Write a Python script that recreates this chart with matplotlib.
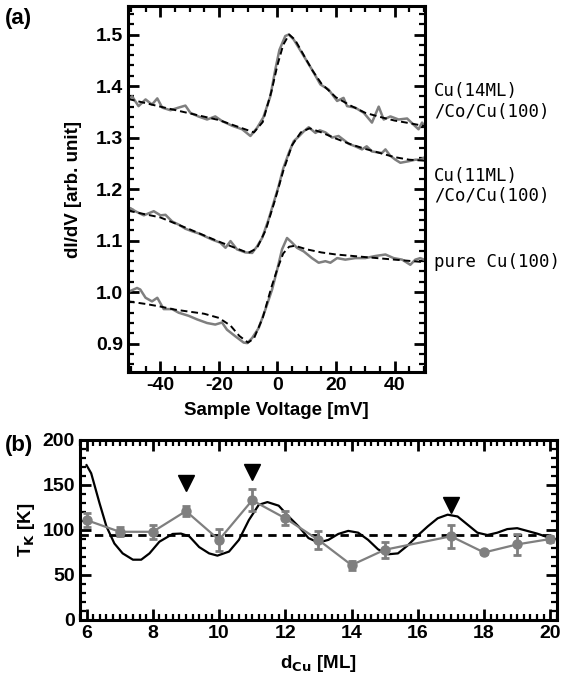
import numpy as np
import matplotlib.pyplot as plt
import matplotlib as mpl
from matplotlib.ticker import MultipleLocator

mpl.rcParams['font.family'] = 'Liberation Sans'
mpl.rcParams['font.weight'] = 'bold'
mpl.rcParams['axes.labelweight'] = 'bold'
mpl.rcParams['axes.unicode_minus'] = False

# ---- panel (a): dI/dV spectra, data (gray) and fits (dashed)
v14 = [-51, -49.6, -47.4, -45, -42.8, -41, -39.3, -36.5, -33.8, -31.4, -29.7, -27, -24, -21.2,
       -18.9, -15.5, -12, -9.2, -6.9, -4.8, -2.4, -0.7, 0.7, 2.7, 3.9, 5.6, 8.4, 11.8, 14.7,
       17.5, 20.4, 22.6, 23.8, 26.6, 29.5, 32.3, 34.6, 36.3, 38.6, 41.4, 44.3, 46.5, 48.2, 49.4, 50.5]
g14 = [1.372, 1.380, 1.361, 1.374, 1.364, 1.376, 1.358, 1.353, 1.358, 1.362, 1.348, 1.341, 1.335,
       1.341, 1.332, 1.323, 1.316, 1.303, 1.319, 1.339, 1.380, 1.432, 1.470, 1.497, 1.500, 1.490,
       1.464, 1.432, 1.403, 1.393, 1.371, 1.377, 1.361, 1.358, 1.348, 1.329, 1.360, 1.335, 1.341,
       1.335, 1.337, 1.325, 1.316, 1.329, 1.320]
fv14 = [-51, -40, -30, -20, -12, -8, -5, -2, 0, 2, 4, 6, 9, 12, 15, 20, 25, 30, 35, 40, 45, 50.5]
f14 = [1.375, 1.360, 1.347, 1.334, 1.318, 1.310, 1.330, 1.390, 1.440, 1.480, 1.500, 1.490, 1.460,
       1.430, 1.405, 1.378, 1.362, 1.348, 1.340, 1.333, 1.328, 1.322]

v11 = [-51, -50.2, -48.5, -45.6, -42.2, -39.9, -38.2, -35.9, -33.7, -31.4, -29.1, -26.9, -24.6,
       -22.3, -19.5, -17.7, -16.0, -13.8, -10.9, -8.6, -6.9, -5.2, -3.0, -1.3, 0.4, 2.0, 3.9, 5.6,
       7.3, 9.0, 10.7, 13.0, 14.5, 16.4, 18.7, 20.9, 23.2, 24.3, 26.6, 28.9, 30.5, 32.3, 35.7,
       36.9, 38.5, 40.3, 42, 44.8, 47.1, 48.8, 50.5]
g11 = [1.160, 1.163, 1.157, 1.149, 1.157, 1.149, 1.150, 1.137, 1.131, 1.123, 1.118, 1.114, 1.108,
       1.102, 1.096, 1.086, 1.099, 1.083, 1.077, 1.076, 1.089, 1.105, 1.141, 1.173, 1.205, 1.240,
       1.270, 1.293, 1.302, 1.312, 1.320, 1.309, 1.314, 1.310, 1.300, 1.303, 1.293, 1.288, 1.283,
       1.277, 1.283, 1.273, 1.270, 1.277, 1.265, 1.257, 1.251, 1.254, 1.257, 1.257, 1.262]
fv11 = [-51, -40, -30, -20, -14, -10, -7, -4, -1, 2, 5, 8, 11, 15, 20, 25, 30, 35, 40, 45, 50.5]
f11 = [1.158, 1.145, 1.122, 1.098, 1.085, 1.076, 1.085, 1.120, 1.175, 1.235, 1.285, 1.310, 1.318,
       1.310, 1.298, 1.287, 1.278, 1.270, 1.262, 1.257, 1.255]

vcu = [-51, -49.5, -47.9, -46.8, -45, -42.8, -41, -38.8, -35.9, -33.7, -30.3, -27.4, -24, -21.2,
       -18.9, -17.2, -14.3, -11.5, -10.3, -8.6, -6.4, -4.1, -1.8, 0, 1.6, 3.3, 5, 6.7, 9, 11.8,
       14.1, 16.4, 18.1, 20.4, 23.2, 26.6, 30, 33.4, 36.9, 39.7, 42.6, 45.4, 47.1, 48.8, 50.5]
gcu = [1.000, 1.004, 1.008, 1.005, 0.989, 0.982, 0.989, 0.967, 0.967, 0.960, 0.954, 0.947, 0.940,
       0.937, 0.941, 0.927, 0.914, 0.902, 0.901, 0.911, 0.930, 0.966, 1.005, 1.045, 1.083, 1.105,
       1.096, 1.086, 1.079, 1.066, 1.057, 1.060, 1.057, 1.066, 1.063, 1.066, 1.066, 1.070, 1.073,
       1.066, 1.063, 1.053, 1.063, 1.066, 1.062]
fvcu = [-51, -45, -40, -35, -30, -25, -20, -16, -13, -10, -8, -5, -2, 0, 2, 4, 6, 10, 15, 20, 30, 40, 50.5]
fcu = [0.982, 0.977, 0.972, 0.966, 0.962, 0.958, 0.950, 0.935, 0.915, 0.902, 0.910, 0.950, 1.010,
       1.045, 1.075, 1.088, 1.090, 1.083, 1.077, 1.073, 1.068, 1.063, 1.058]

labels_a = ["Cu(14ML)\n/Co/Cu(100)", "Cu(11ML)\n/Co/Cu(100)", "pure Cu(100)"]
label_y = [1.370, 1.206, 1.058]

# ---- panel (b): Kondo temperature vs Cu thickness
d_cu = [6, 7, 8, 9, 10, 11, 12, 13, 14, 15, 17, 18, 19, 20]
tk = [111, 98, 98, 121, 89, 133, 113, 89, 61, 78, 93, 75, 84, 90]
tk_err = [8, 5, 8, 6, 12, 12, 8, 10, 5, 9, 13, 2, 12, 3]
tk_mean = 94

d_calc = [6.0, 6.14, 6.39, 6.6, 6.84, 7.09, 7.4, 7.65, 7.9, 8.2, 8.6, 8.85, 9.1, 9.4, 9.7, 9.95,
          10.3, 10.6, 10.9, 11.2, 11.46, 11.8, 12.1, 12.4, 12.7, 13.0, 13.3, 13.6, 13.9, 14.2,
          14.5, 14.8, 15.1, 15.4, 15.7, 16.0, 16.3, 16.6, 16.9, 17.2, 17.5, 17.8, 18.1, 18.4,
          18.7, 19.0, 19.3, 19.6, 20.0]
t_calc = [172, 163, 130, 104, 85, 74, 67, 67, 74, 87, 95.6, 96, 93, 81, 74, 71.5, 76, 89, 111,
          128, 131, 127, 115, 104, 91, 86, 89, 95.6, 99, 97, 89, 78.5, 73, 74, 83, 94, 104, 113,
          117, 115, 106, 97, 94.4, 97, 101, 102, 99, 96, 91]

d_mark = [9, 11, 17]
t_mark = [152, 164, 128]

gray = '#7f7f7f'

fig = plt.figure(figsize=(5.75, 6.85), dpi=100)
ax1 = fig.add_axes([0.2226, 0.457, 0.517, 0.534])
ax2 = fig.add_axes([0.139, 0.0949, 0.8296, 0.2628])


def style(ax):
    for s in ax.spines.values():
        s.set_linewidth(2.2)
    ax.tick_params(which='both', direction='in', top=True, right=True, labelsize=14)
    ax.tick_params(which='major', length=8, width=2)
    ax.tick_params(which='minor', length=4.5, width=1.6)


# (a)
for v, g, fv, f in [(v14, g14, fv14, f14), (v11, g11, fv11, f11), (vcu, gcu, fvcu, fcu)]:
    ax1.plot(v, g, color=gray, lw=1.8)
    ax1.plot(fv, f, color='black', lw=1.4, ls=(0, (3.5, 2)))
ax1.set_xlim(-51, 50.5)
ax1.set_ylim(0.845, 1.555)
ax1.xaxis.set_major_locator(MultipleLocator(20))
ax1.xaxis.set_minor_locator(MultipleLocator(5))
ax1.yaxis.set_major_locator(MultipleLocator(0.1))
ax1.yaxis.set_minor_locator(MultipleLocator(0.02))
ax1.yaxis.set_major_formatter(mpl.ticker.FormatStrFormatter('%.1f'))
style(ax1)
ax1.set_xlabel("Sample Voltage [mV]", fontsize=13.5, labelpad=6)
ax1.set_ylabel("dI/dV [arb. unit]", fontsize=13.5, labelpad=10)
for lab, ly in zip(labels_a, label_y):
    ax1.text(53.5, ly, lab, family='DejaVu Sans Mono', fontweight='normal', fontsize=12.5,
             va='center', ha='left', linespacing=1.15, clip_on=False)
fig.text(0.008, 0.988, "(a)", fontsize=16, fontweight='bold', va='top')

# (b)
ax2.plot(d_calc, t_calc, color='black', lw=1.6)
ax2.axhline(tk_mean, color='black', lw=2, ls=(0, (3, 2.2)))
ax2.errorbar(d_cu, tk, yerr=tk_err, color=gray, lw=1.6, marker='o', ms=6.5,
             elinewidth=2, capsize=3, capthick=2)
ax2.plot(d_mark, t_mark, 'v', color='black', ms=11)
ax2.set_xlim(5.8, 20.2)
ax2.set_ylim(0, 200)
ax2.xaxis.set_major_locator(MultipleLocator(2))
ax2.xaxis.set_minor_locator(MultipleLocator(0.2))
ax2.yaxis.set_major_locator(MultipleLocator(50))
ax2.yaxis.set_minor_locator(MultipleLocator(10))
style(ax2)
ax2.set_xlabel(r"d$_{\mathbf{Cu}}$ [ML]", fontsize=13.5, labelpad=8)
ax2.set_ylabel(r"T$_{\mathbf{K}}$ [K]", fontsize=13.5, labelpad=4)
fig.text(0.008, 0.365, "(b)", fontsize=16, fontweight='bold', va='top')

fig.savefig("out.png", dpi=100)
